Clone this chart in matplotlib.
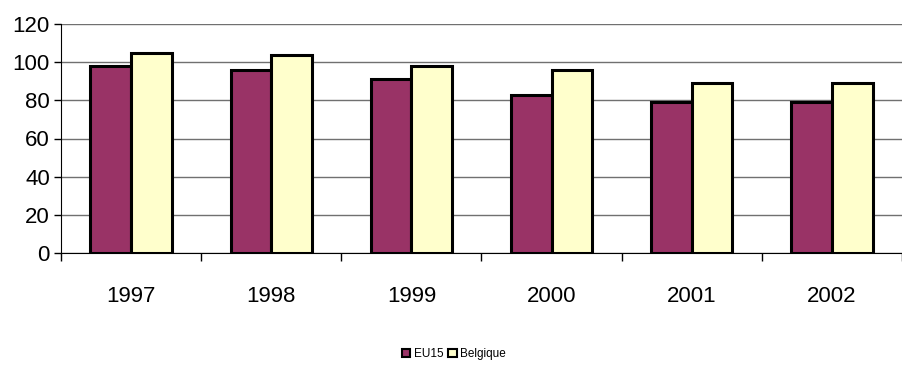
import numpy as np
import matplotlib.pyplot as plt
from matplotlib.patches import Patch

plt.rcParams['font.family'] = ['Liberation Sans', 'DejaVu Sans']

# Data
years = ['1997', '1998', '1999', '2000', '2001', '2002']
eu15 = [98, 96, 91, 83, 79, 79]
belgique = [105, 104, 98, 96, 89, 89]

x_pos = np.arange(len(years))
width = 0.29

fig = plt.figure(figsize=(9.03, 3.65), dpi=100)
ax = fig.add_axes([61/903, 1 - 253/365, 841/903, 229/365])

ax.bar(x_pos - width/2, eu15, width, color='#993366', edgecolor='black', linewidth=2.2, zorder=3)
ax.bar(x_pos + width/2, belgique, width, color='#FFFFCC', edgecolor='black', linewidth=2.2, zorder=3)

ax.set_xlim(-0.5, len(years) - 0.5)
ax.set_ylim(0, 120)
ax.set_yticks(np.arange(0, 121, 20))
ax.yaxis.grid(True, color='#707070', linewidth=1, zorder=0)

# category boundary ticks, labels at the centres
ax.set_xticks(np.arange(-0.5, len(years), 1))
ax.set_xticklabels([])
ax.set_xticks(x_pos, minor=True)
ax.set_xticklabels(years, minor=True)
ax.tick_params(axis='x', which='major', direction='out', length=6, width=1, color='black')
ax.tick_params(axis='x', which='minor', length=0, pad=24, labelsize=16)
ax.tick_params(axis='y', direction='out', length=5, width=1, pad=3, labelsize=16)

for s in ['top', 'right']:
    ax.spines[s].set_visible(False)
ax.spines['left'].set_color('#000000')
ax.spines['bottom'].set_color('#000000')

handles = [Patch(facecolor='#993366', edgecolor='black', linewidth=1.5, label='EU15'),
           Patch(facecolor='#FFFFCC', edgecolor='black', linewidth=1.5, label='Belgique')]
fig.legend(handles=handles, loc='center', bbox_to_anchor=(454/903, 1 - 354/365), ncol=2,
           frameon=False, fontsize=8.5,
           handlelength=0.7, handleheight=0.7, handletextpad=0.3, columnspacing=0.4)

plt.savefig('out.png')
